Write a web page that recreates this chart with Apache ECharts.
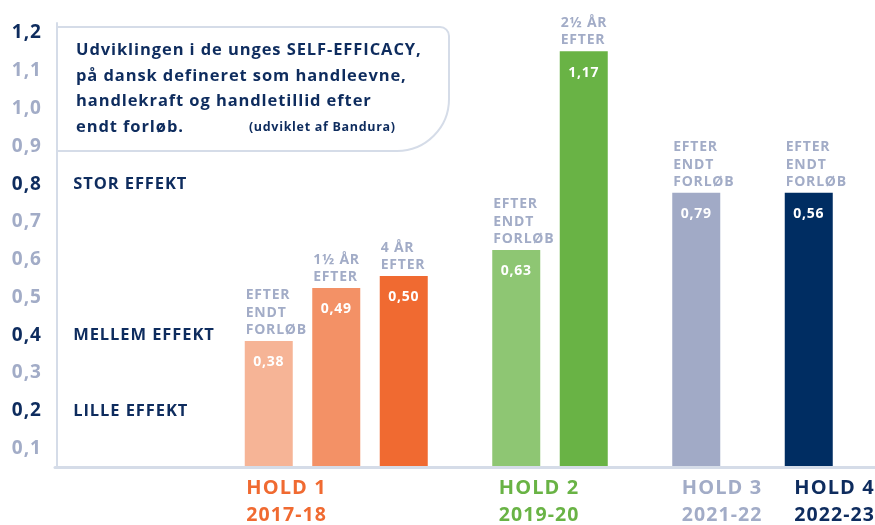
<!DOCTYPE html>
<html>
<head>
<meta charset="utf-8">
<script src="https://cdn.jsdelivr.net/npm/echarts@6/dist/echarts.min.js"></script>
<style>
  html, body { margin: 0; padding: 0; background: #ffffff; }
  #chart { width: 875px; height: 525px; }
</style>
</head>
<body>
<div id="chart"></div>
<script>
// ---------------- DATA ----------------
const groupNames = ['HOLD 1', 'HOLD 2', 'HOLD 3', 'HOLD 4'];
const groupYears = ['2017-18', '2019-20', '2021-22', '2022-23'];
const barGroup = [0, 0, 0, 1, 1, 2, 3];
const barCaptions = [
  'EFTER\nENDT\nFORLØB',
  '1½ ÅR\nEFTER',
  '4 ÅR\nEFTER',
  'EFTER\nENDT\nFORLØB',
  '2½ ÅR\nEFTER',
  'EFTER\nENDT\nFORLØB',
  'EFTER\nENDT\nFORLØB'
];
const barValues = [0.385, 0.525, 0.557, 0.626, 1.152, 0.777, 0.777];
const barValueLabels = ['0,38', '0,49', '0,50', '0,63', '1,17', '0,79', '0,56'];
const yTickValues = [0.1, 0.2, 0.3, 0.4, 0.5, 0.6, 0.7, 0.8, 0.9, 1.0, 1.1, 1.2];
const yTickLabels = ['0,1', '0,2', '0,3', '0,4', '0,5', '0,6', '0,7', '0,8', '0,9', '1,0', '1,1', '1,2'];
const yStrongTicks = [0.2, 0.4, 0.8, 1.2];
const effectNames = ['STOR EFFEKT', 'MELLEM EFFEKT', 'LILLE EFFEKT'];
const effectValues = [0.8, 0.4, 0.2];
const titleLines = [
  'Udviklingen i de unges SELF-EFFICACY,',
  'på dansk defineret som handleevne,',
  'handlekraft og handletillid efter',
  'endt forløb.'
];
const titleNote = '(udviklet af Bandura)';

// ---------------- STYLE ----------------
const FONT = "'Open Sans', sans-serif";
const NAVY = '#0e2c5e';
const GREY = '#a2acc7';
const LINE = '#d5dce8';
const SPACING_EM = 0.055;
const barColors = ['#f6b496', '#f39166', '#f06a31', '#8ec673', '#69b345', '#a1aac6', '#002d62'];
const groupColors = ['#f06a31', '#69b345', '#a2acc7', '#0e2c5e'];
const groupLabelPad = [0, 5, 8, 8];

// slight letter spacing for canvas text (typographic style of the original)
(function () {
  const proto = window.CanvasRenderingContext2D && CanvasRenderingContext2D.prototype;
  if (!proto || !('letterSpacing' in proto)) return;
  const spacingFor = ctx => {
    const m = /(\d+(?:\.\d+)?)px/.exec(ctx.font);
    const size = m ? parseFloat(m[1]) : 12;
    return (size * SPACING_EM).toFixed(2) + 'px';
  };
  const ft = proto.fillText, mt = proto.measureText;
  proto.fillText = function () { this.letterSpacing = spacingFor(this); return ft.apply(this, arguments); };
  proto.measureText = function () { this.letterSpacing = spacingFor(this); return mt.apply(this, arguments); };
})();

// layout in category slots (gaps between bars/groups)
const LEAD = 9, STEP = 3, GROUP_STEP = 5, TRAIL = 3;
const slotOfBar = [];
let s = LEAD;
barGroup.forEach((g, i) => {
  if (i > 0) s += (g === barGroup[i - 1] ? STEP : GROUP_STEP);
  slotOfBar.push(s);
});
const slotCount = slotOfBar[slotOfBar.length - 1] + 1 + TRAIL;
const labelSlotOfGroup = groupNames.map((_, g) => slotOfBar[barGroup.indexOf(g)] - 1);
const categories = Array.from({ length: slotCount }, (_, k) => {
  const g = labelSlotOfGroup.indexOf(k);
  return g >= 0 ? groupNames[g] + '\n' + groupYears[g] : '';
});

const barData = new Array(slotCount).fill('-');
const captionData = new Array(slotCount).fill('-');
slotOfBar.forEach((slot, i) => {
  barData[slot] = { value: barValues[i], itemStyle: { color: barColors[i] } };
  captionData[slot] = { value: barValues[i] };
});

const xRich = {};
groupNames.forEach((_, g) => {
  xRich['h' + g] = { fontFamily: FONT, fontSize: 20, fontWeight: 'bold', color: groupColors[g], lineHeight: 27.5, padding: [0, 0, 0, groupLabelPad[g]] };
  xRich['y' + g] = { fontFamily: FONT, fontSize: 19.5, fontWeight: 'bold', color: groupColors[g], lineHeight: 27.5, padding: [0, 0, 0, groupLabelPad[g]] };
});

const titleText = titleLines.map((l, i) =>
  (i < titleLines.length - 1 ? '{w|' : '{m|') + l + '}'
).join('\n') + '{s|' + titleNote + '}';

const chart = echarts.init(document.getElementById('chart'), null, { renderer: 'canvas' });
chart.setOption({
  animation: false,
  backgroundColor: '#ffffff',
  title: {
    text: titleText,
    left: 57,
    top: 23,
    padding: [15, 20, 15, 19],
    borderColor: LINE,
    borderWidth: 2,
    borderRadius: [0, 9, 52, 0],
    textStyle: {
      rich: {
        w: { fontFamily: FONT, fontSize: 16.5, fontWeight: 'bold', color: NAVY, lineHeight: 25.5, width: 353 },
        m: { fontFamily: FONT, fontSize: 16.5, fontWeight: 'bold', color: NAVY, lineHeight: 25.5 },
        s: { fontFamily: FONT, fontSize: 12.5, fontWeight: 'bold', color: NAVY, lineHeight: 25.5, padding: [0, 0, 0, 65] }
      }
    }
  },
  grid: { left: 55, right: -12.5, top: 23, bottom: 57.5, outerBoundsMode: 'none', containLabel: false },
  xAxis: {
    type: 'category',
    data: categories,
    z: 3,
    axisLine: { show: true, lineStyle: { color: LINE, width: 3 } },
    axisTick: { show: false },
    splitLine: { show: false },
    axisLabel: {
      interval: 0,
      align: 'left',
      margin: 7,
      formatter: (v, idx) => {
        const g = labelSlotOfGroup.indexOf(idx);
        if (g < 0) return '';
        return '{h' + g + '|' + groupNames[g] + '}\n{y' + g + '|' + groupYears[g] + '}';
      },
      rich: xRich
    }
  },
  yAxis: {
    type: 'value',
    min: 0.05,
    max: 1.2265,
    interval: 0.05,
    startValue: 0.05,
    offset: -2,
    axisLine: { show: true, lineStyle: { color: LINE, width: 2 } },
    axisTick: { show: false },
    splitLine: { show: false },
    axisLabel: {
      margin: 15,
      formatter: v => {
        const i = yTickValues.findIndex(t => Math.abs(t - v) < 1e-6);
        if (i < 0) return '';
        const strong = yStrongTicks.some(t => Math.abs(t - v) < 1e-6);
        return '{' + (strong ? 'b' : 'g') + '|' + yTickLabels[i] + '}';
      },
      rich: {
        b: { fontFamily: FONT, fontSize: 19, fontWeight: 'bold', color: NAVY },
        g: { fontFamily: FONT, fontSize: 19, fontWeight: 'bold', color: GREY }
      }
    }
  },
  series: [
    {
      type: 'bar',
      data: barData,
      barWidth: 48,
      barGap: '-100%',
      clip: true,
      label: {
        show: true,
        position: 'insideTop',
        distance: 14,
        fontFamily: FONT,
        fontSize: 14,
        fontWeight: 'bold',
        color: '#ffffff',
        formatter: p => barValueLabels[slotOfBar.indexOf(p.dataIndex)]
      },
      markPoint: {
        symbol: 'circle',
        symbolSize: 0,
        silent: true,
        itemStyle: { color: 'transparent' },
        label: {
          show: true,
          position: 'right',
          distance: 7,
          formatter: '{b}',
          fontFamily: FONT,
          fontSize: 16.5,
          fontWeight: 'bold',
          color: NAVY
        },
        data: effectNames.map((n, i) => ({ name: n, coord: [0, effectValues[i]] }))
      }
    },
    {
      type: 'bar',
      data: captionData,
      barWidth: 48,
      barGap: '-100%',
      clip: true,
      silent: true,
      itemStyle: { color: 'rgba(0,0,0,0)' },
      label: {
        show: true,
        position: [1, -2],
        align: 'left',
        verticalAlign: 'bottom',
        fontFamily: FONT,
        fontSize: 14,
        fontWeight: 'bold',
        lineHeight: 17.5,
        color: GREY,
        formatter: p => barCaptions[slotOfBar.indexOf(p.dataIndex)]
      }
    }
  ]
});
</script>
</body>
</html>
